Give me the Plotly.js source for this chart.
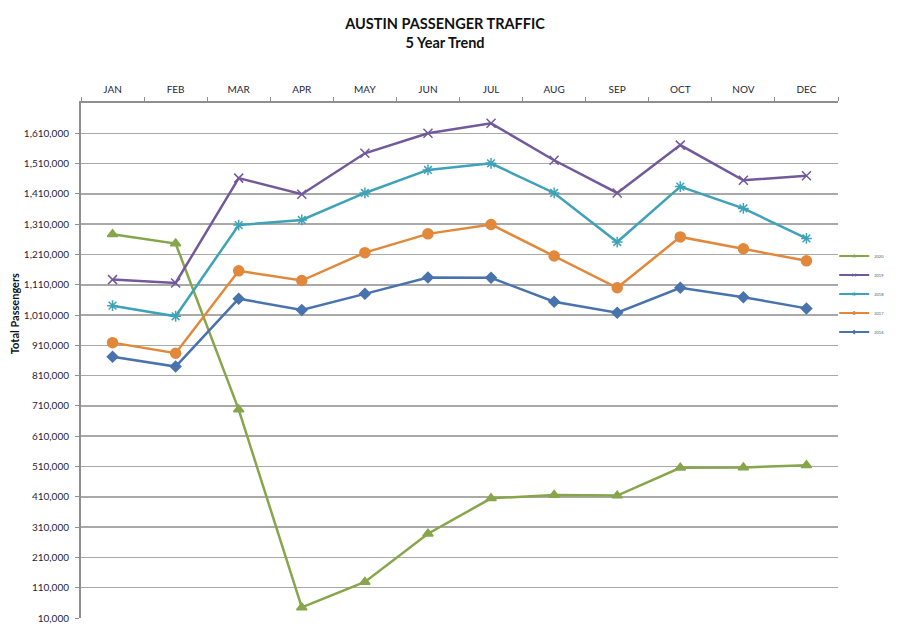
<!DOCTYPE html>
<html>
<head>
<meta charset="utf-8">
<script src="https://cdn.plot.ly/plotly-3.0.1.min.js"></script>
<style>
  html, body { margin: 0; padding: 0; background: #fff; }
  #chart { width: 900px; height: 640px; }
</style>
</head>
<body>
<div id="chart"></div>
<script>
// Austin passenger traffic, monthly totals by year
const months = ['JAN', 'FEB', 'MAR', 'APR', 'MAY', 'JUN', 'JUL', 'AUG', 'SEP', 'OCT', 'NOV', 'DEC'];

const y2020 = [1277000, 1246000, 698000, 45000, 129000, 288000, 405000, 416000, 414000, 506000, 507000, 514000];
const y2019 = [1127000, 1116000, 1462000, 1409000, 1544000, 1610000, 1643000, 1521000, 1413000, 1571000, 1455000, 1470000];
const y2018 = [1041000, 1006000, 1307000, 1324000, 1413000, 1489000, 1511000, 1413000, 1251000, 1434000, 1362000, 1263000];
const y2017 = [919000, 884000, 1156000, 1124000, 1216000, 1278000, 1309000, 1205000, 1100000, 1268000, 1229000, 1189000];
const y2016 = [872000, 840000, 1064000, 1027000, 1080000, 1134000, 1133000, 1054000, 1018000, 1100000, 1069000, 1032000];

const yTickVals = [];
for (let v = 10000; v <= 1610000; v += 100000) yTickVals.push(v);

const FONT = 'Lato, "Open Sans", sans-serif';
const TEXT = '#1f1f3a';

function series(name, y, color, symbol, size) {
    return {
        x: months, y: y, name: name, type: 'scatter', mode: 'lines+markers',
        showlegend: false,
        line: { color: color, width: 2.5 },
        marker: { color: color, symbol: symbol, size: size, line: { color: color, width: 1.5 } }
    };
}

// legend-only twin so the legend swatch keeps a small marker like the original
function legendEntry(name, color, symbol) {
    return {
        x: [null], y: [null], name: name, type: 'scatter', mode: 'lines+markers',
        hoverinfo: 'skip',
        line: { color: color, width: 2 },
        marker: { color: color, symbol: symbol, size: 3, line: { color: color, width: 1 } }
    };
}

const styles = [
    ['2020', y2020, '#87a64b', 'triangle-up', 9],
    ['2019', y2019, '#72599b', 'x-thin-open', 9],
    ['2018', y2018, '#3ea2b8', 'asterisk-open', 9],
    ['2017', y2017, '#e2883b', 'circle', 10],
    ['2016', y2016, '#4873ad', 'diamond', 8]
];

const traces = styles.map(s => series(s[0], s[1], s[2], s[3], s[4]))
    .concat(styles.map(s => legendEntry(s[0], s[2], s[3])));

const layout = {
    width: 900, height: 640,
    paper_bgcolor: '#fff', plot_bgcolor: '#fff',
    font: { family: FONT, color: TEXT, size: 10 },
    margin: { l: 81, r: 62, t: 103, b: 22, autoexpand: false },
    title: {
        text: 'AUSTIN PASSENGER TRAFFIC<br>5 Year Trend',
        font: { family: FONT, size: 14.5, color: '#111', weight: 'bold' },
        x: 0.481, xanchor: 'center', xref: 'paper',
        y: 0.955, yanchor: 'top'
    },
    xaxis: {
        type: 'category', side: 'top',
        range: [-0.5, 11.5],
        showline: true, linecolor: '#8f8f8f', linewidth: 2,
        ticks: 'outside', tickson: 'boundaries', ticklen: 4, tickcolor: '#8f8f8f', tickwidth: 1,
        ticklabelstandoff: 4,
        showgrid: false, zeroline: false,
        tickfont: { family: FONT, size: 10, color: TEXT },
        fixedrange: true
    },
    yaxis: {
        range: [10000, 1710000],
        tickvals: yTickVals,
        tickformat: ',d',
        showline: true, linecolor: '#8f8f8f', linewidth: 2,
        ticks: 'outside', ticklen: 4, tickcolor: '#8f8f8f', tickwidth: 1,
        ticklabelstandoff: 4,
        showgrid: true, gridcolor: '#a9a9a9', gridwidth: 1.5,
        zeroline: false,
        tickfont: { family: FONT, size: 10, color: TEXT },
        fixedrange: true
    },
    legend: {
        x: 0.995, xanchor: 'left', y: 0.629, yanchor: 'middle',
        font: { family: FONT, size: 4, color: '#555' },
        bgcolor: 'rgba(0,0,0,0)', borderwidth: 0,
        tracegroupgap: 0, itemwidth: 30
    },
    annotations: [{
        text: '<b>Total Passengers</b>', textangle: -90,
        xref: 'paper', yref: 'paper', x: -0.0885, y: 0.59,
        xanchor: 'center', yanchor: 'middle', showarrow: false,
        font: { family: FONT, size: 11, color: '#111' }
    }]
};

Plotly.newPlot('chart', traces, layout, { displayModeBar: false, staticPlot: true });
</script>
</body>
</html>
